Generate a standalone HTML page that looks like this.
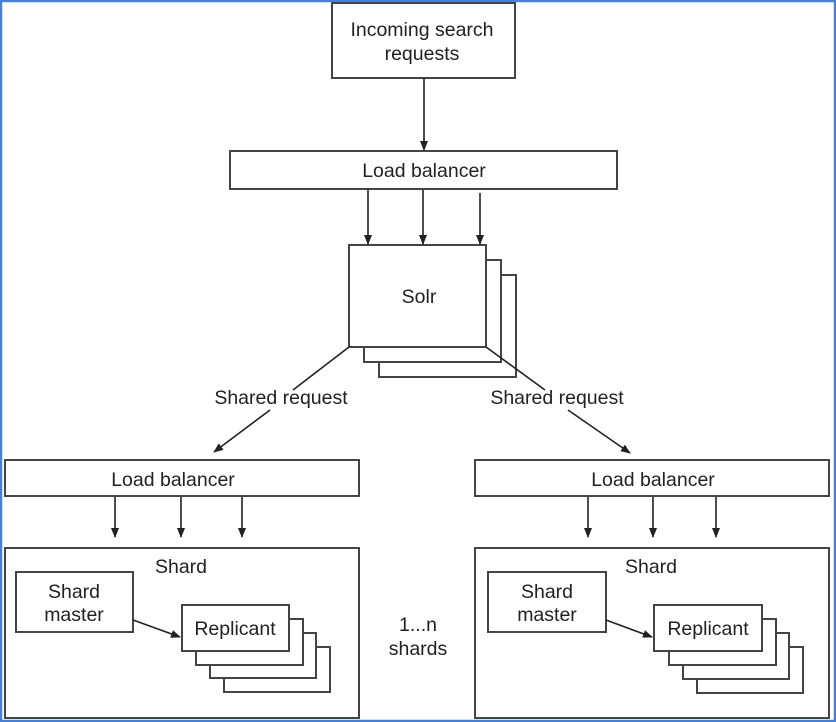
<!DOCTYPE html>
<html><head><style>
html,body{margin:0;padding:0;background:#fff}
svg{display:block}
text{font-family:"Liberation Sans",Arial,sans-serif;font-size:19.5px;fill:#222}
</style></head><body>
<svg width="836" height="722" viewBox="0 0 836 722" xmlns="http://www.w3.org/2000/svg">
<defs><marker id="a" markerWidth="10" markerHeight="10" refX="9" refY="5" orient="auto" markerUnits="userSpaceOnUse"><path d="M0,1 L10,5 L0,9 Z" fill="#222"/></marker></defs>
<rect x="1" y="1" width="834" height="720" fill="#fff" stroke="#4a80d2" stroke-width="2.5"/>
<g fill="#fff" stroke="#444" stroke-width="2">
<rect x="332" y="3" width="183" height="75"/>
<rect x="230" y="151" width="387" height="38"/>
<rect x="379" y="275" width="137" height="102"/>
<rect x="364" y="260" width="137" height="102"/>
<rect x="349" y="245" width="137" height="102"/>
<rect x="5" y="460" width="354" height="36"/>
<rect x="5" y="548" width="354" height="170"/>
<rect x="16" y="572" width="117" height="60"/>
<rect x="224" y="647" width="106" height="45"/>
<rect x="210" y="633" width="106" height="45"/>
<rect x="196" y="619" width="107" height="46"/>
<rect x="182" y="605" width="107" height="46"/>
<rect x="475" y="460" width="354" height="36"/>
<rect x="475" y="548" width="354" height="170"/>
<rect x="488" y="572" width="118" height="60"/>
<rect x="697" y="647" width="106" height="46"/>
<rect x="683" y="633" width="106" height="46"/>
<rect x="669" y="619" width="107" height="46"/>
<rect x="654" y="605" width="108" height="46"/>
</g>
<g stroke="#222" stroke-width="1.6" marker-end="url(#a)">
<line x1="424" y1="78" x2="424" y2="150"/>
<line x1="368" y1="190" x2="368" y2="244"/>
<line x1="423" y1="190" x2="423" y2="244"/>
<line x1="480" y1="193" x2="480" y2="244"/>
<line x1="115" y1="497" x2="115" y2="537"/>
<line x1="181" y1="497" x2="181" y2="537"/>
<line x1="242" y1="497" x2="242" y2="537"/>
<line x1="588" y1="497" x2="588" y2="537"/>
<line x1="653" y1="497" x2="653" y2="537"/>
<line x1="716" y1="497" x2="716" y2="537"/>
<line x1="133" y1="620" x2="180" y2="637"/>
<line x1="606" y1="620" x2="652" y2="637"/>
<line x1="270" y1="410" x2="214" y2="452"/>
<line x1="568" y1="410" x2="630" y2="453"/>
</g>
<g stroke="#222" stroke-width="1.6">
<line x1="349" y1="347" x2="293" y2="390"/>
<line x1="486" y1="347" x2="545" y2="390"/>
</g>
<g text-anchor="middle">
<text x="422" y="36">Incoming search</text>
<text x="422" y="60">requests</text>
<text x="424" y="177">Load balancer</text>
<text x="419" y="303">Solr</text>
<text x="281" y="404">Shared request</text>
<text x="557" y="404">Shared request</text>
<text x="173" y="486">Load balancer</text>
<text x="653" y="486">Load balancer</text>
<text x="181" y="573">Shard</text>
<text x="651" y="573">Shard</text>
<text x="74" y="598">Shard</text>
<text x="74" y="621">master</text>
<text x="547" y="598">Shard</text>
<text x="547" y="621">master</text>
<text x="235" y="635">Replicant</text>
<text x="708" y="635">Replicant</text>
<text x="418" y="631">1...n</text>
<text x="418" y="655">shards</text>
</g>
</svg>
</body></html>
